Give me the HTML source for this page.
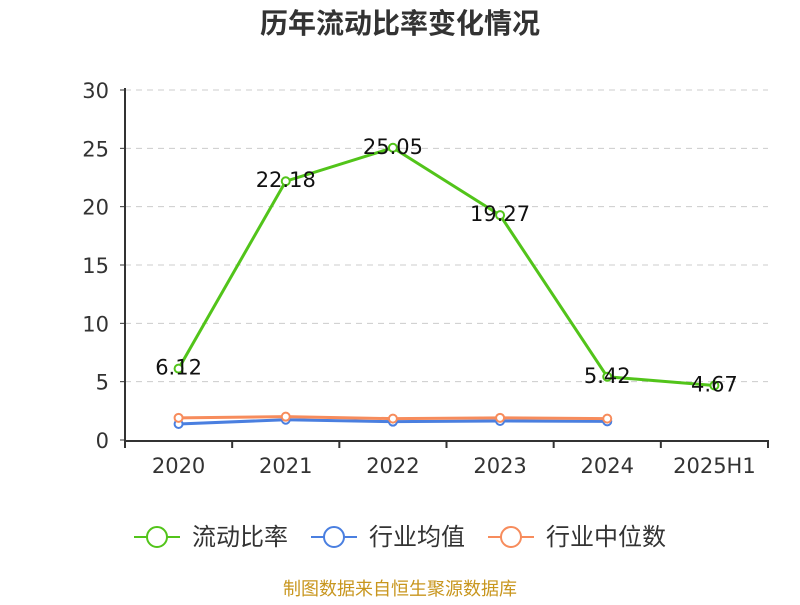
<!DOCTYPE html>
<html><head><meta charset="utf-8"><style>
body{margin:0;background:#fff;}
svg text{font-family:"DejaVu Sans","Noto Sans CJK SC",sans-serif;}
</style></head><body>
<svg width="800" height="600" xmlns="http://www.w3.org/2000/svg">
<text x="400" y="33" text-anchor="middle" font-size="28" font-weight="bold" fill="#333">历年流动比率变化情况</text>
<g id="grid"></g><g id="axes"></g><g id="series"></g>
<g>
<g><line x1="134" y1="537" x2="180" y2="537" stroke="#52c41a" stroke-width="2"/><circle cx="157" cy="537" r="10" fill="#fff" stroke="#52c41a" stroke-width="2"/><text x="192" y="545" font-size="24" fill="#333">流动比率</text></g>
<g><line x1="311" y1="537" x2="357" y2="537" stroke="#4a7fe0" stroke-width="2"/><circle cx="334" cy="537" r="10" fill="#fff" stroke="#4a7fe0" stroke-width="2"/><text x="369" y="545" font-size="24" fill="#333">行业均值</text></g>
<g><line x1="488" y1="537" x2="534" y2="537" stroke="#f78c5c" stroke-width="2"/><circle cx="511" cy="537" r="10" fill="#fff" stroke="#f78c5c" stroke-width="2"/><text x="546" y="545" font-size="24" fill="#333">行业中位数</text></g>
</g>
<text x="400" y="595" text-anchor="middle" font-size="18" fill="#c8961e">制图数据来自恒生聚源数据库</text>
</svg>
<script>
const categories=["2020","2021","2022","2023","2024","2025H1"];
const ratioValues=[6.12,22.18,25.05,19.27,5.42,4.67];
const avgValues=[1.37,1.74,1.57,1.63,1.6];
const medianValues=[1.9,2.0,1.83,1.9,1.83];
const yTicks=[0,5,10,15,20,25,30];
const NS="http://www.w3.org/2000/svg";
const L=125,R=768,T=90,B=440,ymax=30;
const bw=(R-L)/categories.length;
const x=i=>L+bw*(i+0.5);
const y=v=>B-(v/ymax)*(B-T);
function mk(tag,attrs,parent){const e=document.createElementNS(NS,tag);for(const k in attrs)e.setAttribute(k,attrs[k]);parent.appendChild(e);return e;}
const grid=document.getElementById('grid'),axes=document.getElementById('axes'),ser=document.getElementById('series');
yTicks.forEach(t=>{
 if(t>0){const g=mk('line',{x1:L,x2:R,y1:y(t),y2:y(t),stroke:'#ccc','stroke-dasharray':'6,5'},grid);
 
 }
 const tk=mk('line',{x1:L-5,x2:L,y1:y(t),y2:y(t),stroke:'#333'},axes);
 
 
 const tx=mk('text',{x:L-16,y:y(t)+8,'text-anchor':'end','font-size':'21',fill:'#333'},axes);tx.textContent=t;
 
 
});
const ya=mk('line',{x1:L,x2:L,y1:T-2,y2:B+1,stroke:'#333','stroke-width':2},axes);


const xa=mk('line',{x1:L,x2:R,y1:B+1,y2:B+1,stroke:'#333','stroke-width':2},axes);


for(let i=0;i<=categories.length;i++){const tk=mk('line',{x1:L+bw*i,x2:L+bw*i,y1:B,y2:B+8,stroke:'#333','stroke-width':2},axes);
 
 }
categories.forEach((c,i)=>{const t=mk('text',{x:x(i),y:B+33,'text-anchor':'middle','font-size':'21',fill:'#333'},axes);t.textContent=c;
 
 });
function series(vals,color,name,labels,r){
 const p=mk('polyline',{points:vals.map((v,i)=>x(i)+','+y(v)).join(' '),fill:'none',stroke:color,'stroke-width':3},ser);
 
 
 vals.forEach((v,i)=>{const c=mk('circle',{cx:x(i),cy:y(v),r:r,fill:'#fff',stroke:color,'stroke-width':2},ser);
  
  
  if(labels){const t=mk('text',{x:x(i),y:y(v)+6,'text-anchor':'middle','font-size':'21',fill:'#111'},ser);t.textContent=v.toFixed(2);
   
   }
 });
}
series(avgValues,'#4a7fe0','industry-average',false,4);
series(medianValues,'#f78c5c','industry-median',false,4);
series(ratioValues,'#52c41a','current-ratio',true,4);
</script>
</body></html>
